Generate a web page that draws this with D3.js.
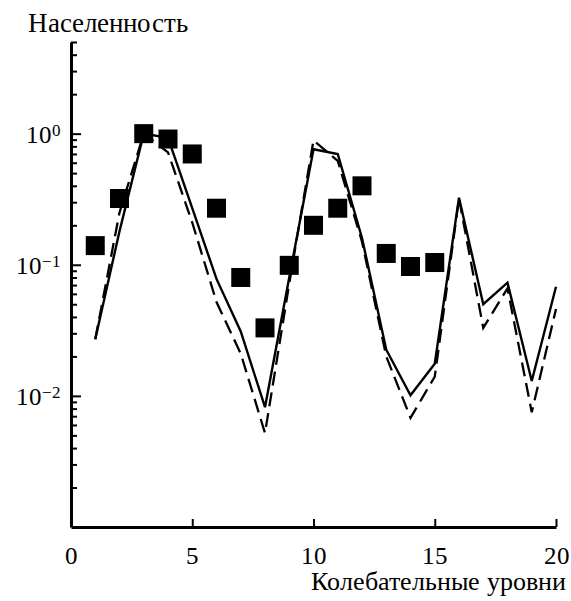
<!DOCTYPE html>
<html>
<head>
<meta charset="utf-8">
<script src="https://cdn.jsdelivr.net/npm/d3@7"></script>
<style>
    @font-face {
        font-family: "ChartSerif";
        src: local("Liberation Serif"), local("LiberationSerif"), local("Liberation Serif Regular"),
             local("Times New Roman"), local("DejaVu Serif");
    }
    body { margin: 0; }
    text { font-family: "ChartSerif", "Liberation Serif", "Times New Roman", serif; }
</style>
</head>
<body>
<script>
// vibrational levels
const levels = [1, 2, 3, 4, 5, 6, 7, 8, 9, 10, 11, 12, 13, 14, 15, 16, 17, 18, 19, 20];
// calculated populations (solid line)
const calcSolid = [0.027, 0.18, 1.0, 0.93, 0.27, 0.078, 0.031, 0.0082, 0.08, 0.76,
                   0.70, 0.16, 0.0225, 0.0101, 0.0176, 0.325, 0.050, 0.073, 0.013, 0.068];
// calculated populations (dashed line)
const calcDashed = [0.027, 0.25, 1.0, 0.72, 0.21, 0.052, 0.021, 0.0052, 0.072, 0.89,
                    0.62, 0.15, 0.020, 0.0068, 0.014, 0.32, 0.033, 0.066, 0.0075, 0.046];
// measured populations (squares)
const expLevels = [1, 2, 3, 4, 5, 6, 7, 8, 9, 10, 11, 12, 13, 14, 15];
const expValues = [0.14, 0.32, 1.0, 0.91, 0.70, 0.27, 0.08, 0.033, 0.099, 0.20,
                   0.27, 0.40, 0.122, 0.097, 0.104];

const xTicks = [0, 5, 10, 15, 20];
const yMajor = [1e-2, 1e-1, 1];
const yExponents = ["\u22122", "\u22121", "0"];

const FONT = '"ChartSerif", "Liberation Serif", "Times New Roman", serif';

// set the serif font on a text selection
function serif(sel, size) {
    sel.attr("font-family", FONT)
        .style("font-family", FONT)
        .style("font-size", size + "px");
}

class PopulationChart {
    constructor(_config) {
        this.config = {
            parentElement: _config.parentElement,
            containerWidth: _config.containerWidth || 571,
            containerHeight: _config.containerHeight || 601,
            margin: _config.margin || {top: 42, right: 15, bottom: 74, left: 71}
        };
        this.initVis();
    }

    initVis() {
        let vis = this;

        vis.width = vis.config.containerWidth - vis.config.margin.left - vis.config.margin.right;
        vis.height = vis.config.containerHeight - vis.config.margin.top - vis.config.margin.bottom;

        vis.svg = d3.select(vis.config.parentElement)
            .append("svg")
                .attr("width", vis.config.containerWidth)
                .attr("height", vis.config.containerHeight)
                .style("display", "block");

        vis.chart = vis.svg.append("g")
            .attr("transform", `translate(${vis.config.margin.left},${vis.config.margin.top})`);

        vis.xScale = d3.scaleLinear()
            .domain([0, 20])
            .range([0, vis.width]);

        vis.yScale = d3.scaleLog()
            .domain([1e-3, 5])
            .range([vis.height, 0]);

        // minor log ticks: 2..9 of each decade, plus 2..5 above 1
        vis.yMinor = [];
        [1e-3, 1e-2, 1e-1, 1].forEach(dec => {
            for (let m = 2; m <= 9; m++) {
                if (dec * m <= 5) vis.yMinor.push(dec * m);
            }
        });

        vis.renderVis();
    }

    renderVis() {
        let vis = this;

        // lines
        const line = d3.line()
            .x((d, i) => vis.xScale(levels[i]))
            .y(d => vis.yScale(d));

        vis.chart.append("path")
            .datum(calcDashed)
            .attr("fill", "none")
            .attr("stroke", "#000")
            .attr("stroke-width", 2.3)
            .attr("stroke-dasharray", "14,7")
            .attr("d", line);

        vis.chart.append("path")
            .datum(calcSolid)
            .attr("fill", "none")
            .attr("stroke", "#000")
            .attr("stroke-width", 2.4)
            .attr("d", line);

        // squares
        const sq = 19;
        vis.chart.selectAll(".pt")
            .data(expValues)
        .join("rect")
            .attr("class", "pt")
            .attr("x", (d, i) => vis.xScale(expLevels[i]) - sq / 2)
            .attr("y", d => vis.yScale(d) - sq / 2)
            .attr("width", sq)
            .attr("height", sq)
            .attr("fill", "#000");

        // y axis: minor ticks
        const yMinorAxis = d3.axisLeft(vis.yScale)
            .tickValues(vis.yMinor)
            .tickSize(-6)
            .tickFormat("");
        vis.chart.append("g")
            .call(yMinorAxis)
            .call(g => g.select(".domain").remove())
            .selectAll("line").attr("stroke-width", 2);

        // y axis: major ticks with 10^n labels
        const yAxis = d3.axisLeft(vis.yScale)
            .tickValues(yMajor)
            .tickSize(-10)
            .tickSizeOuter(0)
            .tickPadding(10)
            .tickFormat("");
        const yAxisG = vis.chart.append("g")
            .call(yAxis)
            .attr("font-family", FONT)
            .attr("font-size", 25);
        yAxisG.select(".domain").attr("stroke-width", 3);
        yAxisG.selectAll("line").attr("stroke-width", 2);
        yAxisG.selectAll(".tick text")
            .attr("dy", "0.36em")
            .call(serif, 25)
            .each(function(d, i) {
                const t = d3.select(this);
                t.append("tspan").text("10");
                t.append("tspan")
                    .attr("dy", "-0.42em")
                    .style("font-size", "17px")
                    .text(yExponents[i]);
            });

        // x axis
        const xAxis = d3.axisBottom(vis.xScale)
            .tickValues(xTicks)
            .tickSize(-8)
            .tickSizeOuter(0)
            .tickPadding(19)
            .tickFormat(d3.format("d"));
        const xAxisG = vis.chart.append("g")
            .attr("transform", `translate(0,${vis.height})`)
            .call(xAxis)
            .attr("font-family", FONT)
            .attr("font-size", 25);
        xAxisG.select(".domain").attr("stroke-width", 3);
        xAxisG.selectAll("line").attr("stroke-width", 2);
        xAxisG.selectAll(".tick text").call(serif, 25);

        // titles
        vis.svg.append("text")
            .attr("x", 28)
            .attr("y", 32)
            .call(serif, 27)
            .text("Населенность");

        vis.svg.append("text")
            .attr("x", 566)
            .attr("y", 590)
            .attr("text-anchor", "end")
            .call(serif, 26)
            .text("Колебательные уровни");
    }
}

const chart = new PopulationChart({parentElement: "body"});
</script>
</body>
</html>
